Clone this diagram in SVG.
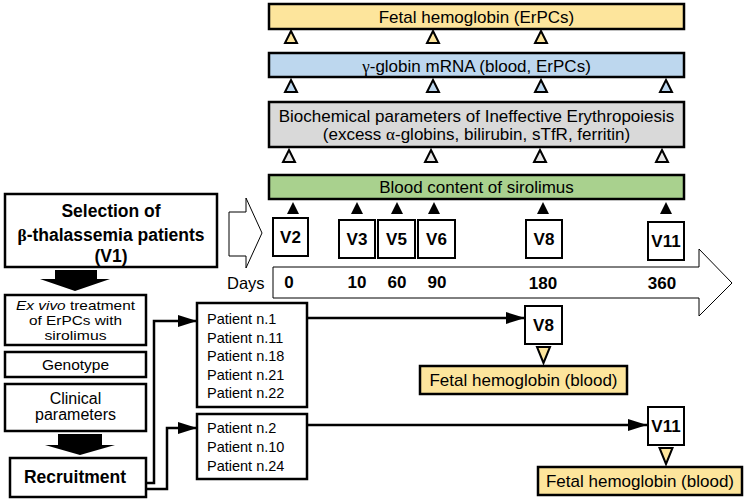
<svg xmlns="http://www.w3.org/2000/svg" width="749" height="500" viewBox="0 0 749 500">
<style>
text{font-family:"Liberation Sans",Arial,Helvetica,sans-serif;fill:#000}
.t17{font-size:17px;text-anchor:middle}
.pt{font-size:14.5px}
.b{font-weight:bold}
.vl{font-size:17px;font-weight:bold;text-anchor:middle}
.num{font-size:17px;font-weight:bold;text-anchor:middle}
.ex{font-size:13.5px;text-anchor:middle}
.sym{font-family:"Liberation Serif","Times New Roman",serif}
.bar{stroke:#000;stroke-width:2.5}
.box{fill:#fff;stroke:#000;stroke-width:2.5}
.vbox{fill:#fff;stroke:#000;stroke-width:2}
.yel{fill:#fde59c}
.blu{fill:#bdd7ee}
.gry{fill:#d9d9d9}
.grn{fill:#a9d18e}
.tri{stroke:#000;stroke-width:2;stroke-linejoin:miter}
.conn{fill:none;stroke:#000;stroke-width:2.5}
.hollow{fill:#fff;stroke:#000;stroke-width:1}
</style>
<defs>
<path id="up" d="M0,0 L6,12 L-6,12 Z"/>
<path id="dn" d="M-6.5,0 L6.5,0 L0,16 Z"/>
<marker id="ah" markerUnits="userSpaceOnUse" markerWidth="20" markerHeight="14" viewBox="0 0 20 14" refX="19" refY="7" orient="auto">
<path d="M0,1 L19,7 L0,13 Z" fill="#000"/>
</marker>
</defs>

<!-- Top measurement bars -->
<g id="fetal-erpcs">
<rect class="bar yel" x="269" y="4" width="415" height="25"/>
<text class="t17" x="476.5" y="23">Fetal hemoglobin (ErPCs)</text>
</g>
<g id="fetal-erpcs-ticks" class="tri yel">
<use href="#up" x="291" y="31"/><use href="#up" x="433" y="31"/><use href="#up" x="541" y="31"/>
</g>

<g id="gamma-globin">
<rect class="bar blu" x="269" y="53" width="415" height="24"/>
<text class="t17" x="476.5" y="72"><tspan class="sym">γ</tspan>-globin mRNA (blood, ErPCs)</text>
</g>
<g id="gamma-ticks" class="tri blu">
<use href="#up" x="291" y="80"/><use href="#up" x="433" y="80"/><use href="#up" x="541" y="80"/><use href="#up" x="666" y="80"/>
</g>

<g id="biochemical">
<rect class="bar gry" x="269" y="102" width="415" height="45"/>
<text class="t17" x="476.5" y="122">Biochemical parameters of Ineffective Erythropoiesis</text>
<text class="t17" x="476.5" y="140">(excess <tspan class="sym">α</tspan>-globins, bilirubin, sTfR, ferritin)</text>
</g>
<g id="biochemical-ticks" class="tri" fill="#e6e6e6">
<use href="#up" x="289" y="150"/><use href="#up" x="431" y="150"/><use href="#up" x="540" y="150"/><use href="#up" x="662" y="150"/>
</g>

<g id="sirolimus">
<rect class="bar grn" x="269" y="175" width="415" height="24"/>
<text class="t17" x="476.5" y="193">Blood content of sirolimus</text>
</g>
<g id="sirolimus-ticks" fill="#000">
<use href="#up" x="293" y="202"/><use href="#up" x="357" y="202"/><use href="#up" x="397" y="202"/><use href="#up" x="434" y="202"/><use href="#up" x="543" y="202"/><use href="#up" x="666" y="202"/>
</g>

<!-- Timeline -->
<g id="timeline">
<polygon class="hollow" points="273,267 699,267 699,249 732,283 699,316 699,298 273,298"/>
<text x="227" y="289" style="font-size:16.5px">Days</text>
<text class="num" x="289" y="288">0</text>
<text class="num" x="357" y="288">10</text>
<text class="num" x="397" y="288">60</text>
<text class="num" x="437" y="288">90</text>
<text class="num" x="543" y="289">180</text>
<text class="num" x="662" y="289">360</text>
</g>

<g id="v2"><rect class="vbox" x="273" y="218" width="35" height="38"/><text class="vl" x="290.5" y="243">V2</text></g>
<g id="v3"><rect class="vbox" x="339" y="220" width="36" height="38"/><text class="vl" x="357" y="245">V3</text></g>
<g id="v5"><rect class="vbox" x="378" y="220" width="37" height="38"/><text class="vl" x="396.5" y="245">V5</text></g>
<g id="v6"><rect class="vbox" x="418" y="220" width="37" height="38"/><text class="vl" x="436.5" y="245">V6</text></g>
<g id="v8"><rect class="vbox" x="526" y="220" width="36" height="38"/><text class="vl" x="544" y="245">V8</text></g>
<g id="v11"><rect class="vbox" x="648" y="222" width="36" height="38"/><text class="vl" x="666" y="247">V11</text></g>

<!-- Left column -->
<g id="selection">
<rect class="box" x="5" y="194" width="212" height="73"/>
<text class="b" x="111" y="217" style="font-size:17.5px;text-anchor:middle">Selection of</text>
<text class="b" x="111" y="241" style="font-size:17.5px;text-anchor:middle"><tspan class="sym">β</tspan>-thalassemia patients</text>
<text class="b" x="111" y="262" style="font-size:17.5px;text-anchor:middle">(V1)</text>
</g>
<g id="to-timeline">
<polygon class="hollow" points="229,212 246,212 246,198 262,233 246,268 246,256 229,256"/>
</g>
<g id="down-arrow-1"><polygon fill="#000" points="55,270 97,270 97,279 110,279 75,291 40,279 55,279"/></g>

<g id="exvivo">
<rect class="box" x="5" y="295" width="141" height="50"/>
<text class="ex" x="75.5" y="309.5" textLength="119" lengthAdjust="spacingAndGlyphs"><tspan font-style="italic">Ex vivo</tspan> treatment</text>
<text class="ex" x="75.5" y="324.5" textLength="93" lengthAdjust="spacingAndGlyphs">of ErPCs with</text>
<text class="ex" x="75.5" y="339.5" textLength="62" lengthAdjust="spacingAndGlyphs">sirolimus</text>
</g>
<g id="genotype">
<rect class="box" x="5" y="352" width="141" height="25"/>
<text x="75.5" y="369.5" style="font-size:15.5px;text-anchor:middle">Genotype</text>
</g>
<g id="clinical">
<rect class="box" x="5" y="384" width="141" height="47"/>
<text x="75.5" y="404" style="font-size:16px;text-anchor:middle">Clinical</text>
<text x="75.5" y="420" style="font-size:16px;text-anchor:middle">parameters</text>
</g>
<g id="down-arrow-2"><polygon fill="#000" points="58,434 102,434 102,445 115,445 80,455 45,445 58,445"/></g>
<g id="recruitment">
<rect class="box" x="10" y="458" width="136" height="39"/>
<text class="b" x="75" y="483" style="font-size:17.5px;text-anchor:middle">Recruitment</text>
</g>

<!-- Patient groups -->
<g id="patients-a">
<rect class="box" x="197" y="303" width="110" height="104"/>
<text class="pt" x="207" y="324">Patient n.1</text>
<text class="pt" x="207" y="343">Patient n.11</text>
<text class="pt" x="207" y="361">Patient n.18</text>
<text class="pt" x="207" y="380">Patient n.21</text>
<text class="pt" x="207" y="398">Patient n.22</text>
</g>
<g id="patients-b">
<rect class="box" x="197" y="414" width="110" height="65"/>
<text class="pt" x="207" y="433">Patient n.2</text>
<text class="pt" x="207" y="452">Patient n.10</text>
<text class="pt" x="207" y="471">Patient n.24</text>
</g>

<g id="v8-blood"><rect class="vbox" x="525" y="306" width="37" height="38"/><text class="vl" x="543.5" y="331">V8</text></g>
<g id="v11-blood"><rect class="vbox" x="648" y="407" width="36" height="38"/><text class="vl" x="666" y="432">V11</text></g>
<g id="v8-tick" class="tri yel"><use href="#dn" x="543.5" y="347"/></g>
<g id="v11-tick" class="tri yel"><use href="#dn" x="666" y="448"/></g>
<g id="fetal-blood-1">
<rect class="bar yel" x="420" y="366" width="207" height="28"/>
<text class="t17" x="523.5" y="386">Fetal hemoglobin (blood)</text>
</g>
<g id="fetal-blood-2">
<rect class="bar yel" x="538" y="467" width="204" height="28"/>
<text class="t17" x="640" y="487">Fetal hemoglobin (blood)</text>
</g>

<!-- Connectors -->
<g id="connectors">
<path class="conn" d="M146,483 H154 V321 H197" marker-end="url(#ah)"/>
<path class="conn" d="M146,489 H167 V428 H197" marker-end="url(#ah)"/>
<path class="conn" d="M307,318 H525" marker-end="url(#ah)"/>
<path class="conn" d="M307,425 H647" marker-end="url(#ah)"/>
</g>
</svg>
